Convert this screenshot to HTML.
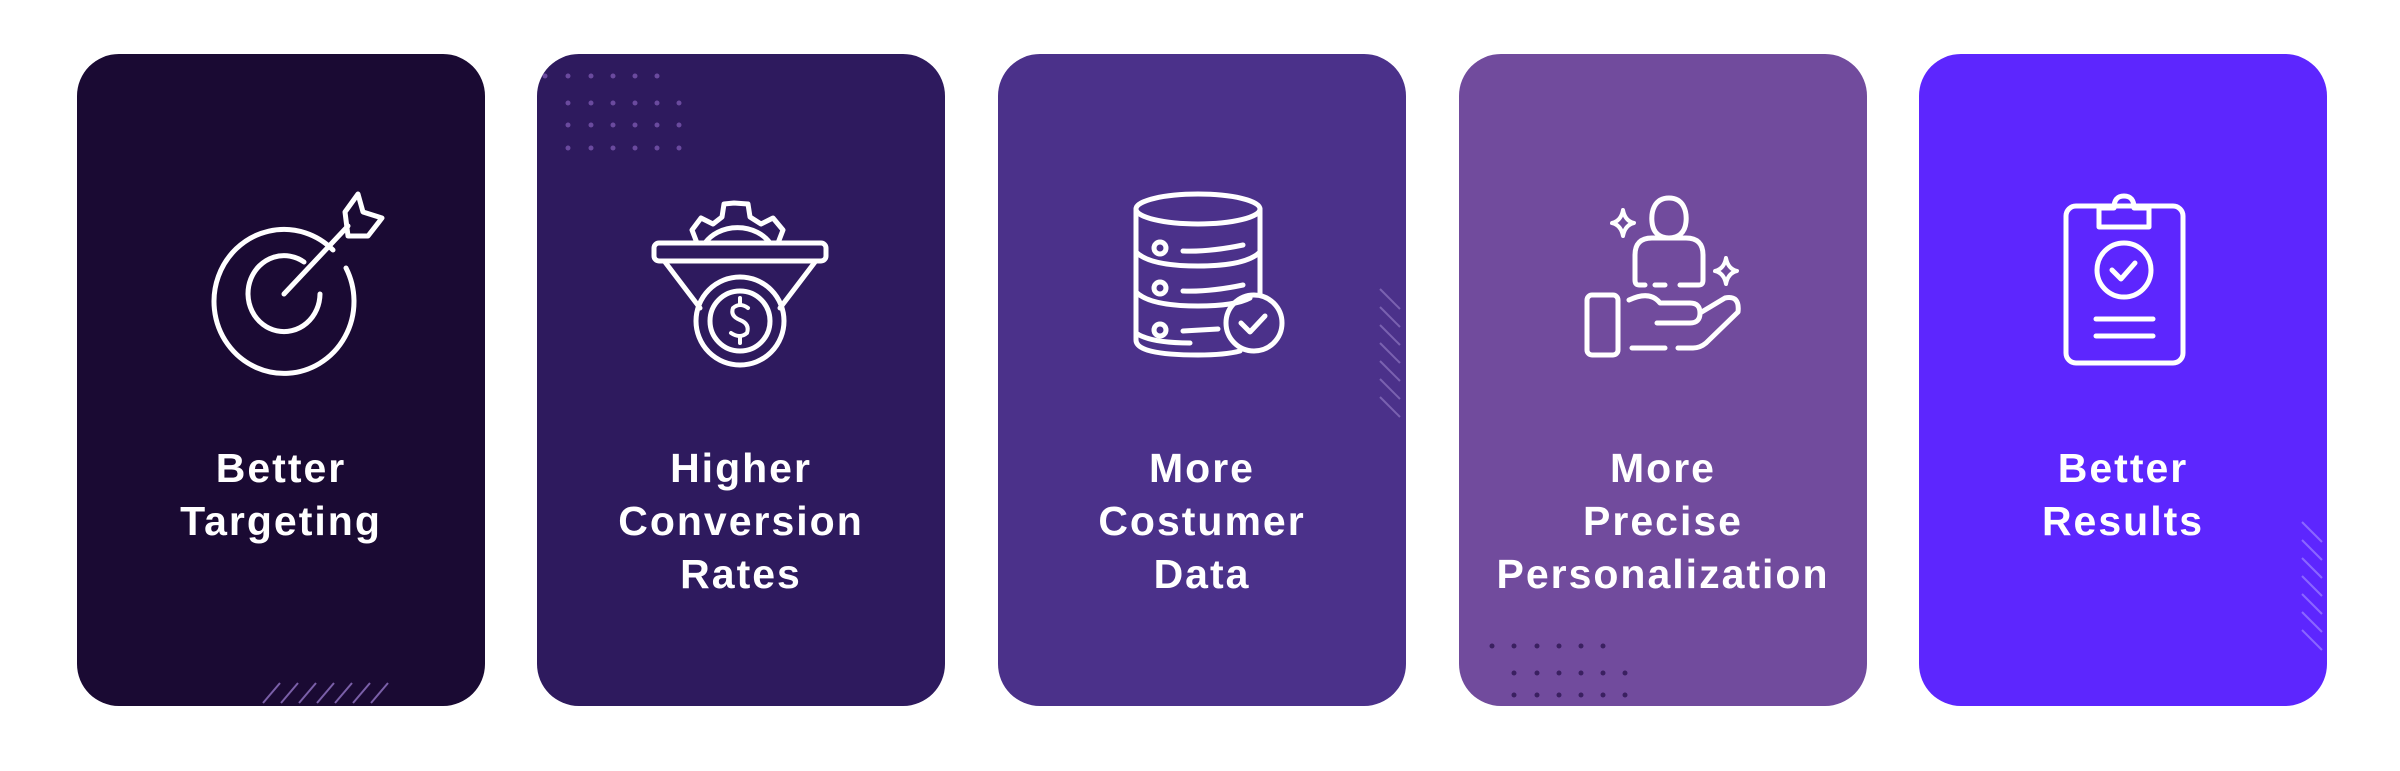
<!DOCTYPE html>
<html><head><meta charset="utf-8"><style>
html,body{margin:0;padding:0;background:#fff;}
body{width:2400px;height:766px;overflow:hidden;}
svg text{font-family:"Liberation Sans",sans-serif;font-weight:bold;font-size:41px;fill:#fff;letter-spacing:2px;text-anchor:middle;}
</style></head><body>
<svg width="2400" height="766" viewBox="0 0 2400 766" xmlns="http://www.w3.org/2000/svg">
<rect x="77" y="54" width="408" height="652" rx="42" fill="#1a0a33"/>
<rect x="537" y="54" width="408" height="652" rx="42" fill="#2e1a5e"/>
<rect x="998" y="54" width="408" height="652" rx="42" fill="#4b318a"/>
<rect x="1459" y="54" width="408" height="652" rx="42" fill="#714b9d"/>
<rect x="1919" y="54" width="408" height="652" rx="42" fill="#5d26fe"/>

<!-- decorations -->
<g stroke="#7a5fa8" stroke-width="2">
<line x1="263" y1="703" x2="280" y2="683"/><line x1="281" y1="703" x2="298" y2="683"/><line x1="299" y1="703" x2="316" y2="683"/><line x1="317" y1="703" x2="334" y2="683"/><line x1="335" y1="703" x2="352" y2="683"/><line x1="353" y1="703" x2="370" y2="683"/><line x1="371" y1="703" x2="388" y2="683"/>
</g>
<g fill="#6a4a9e">
<circle cx="545" cy="76" r="2.5"/><circle cx="568" cy="76" r="2.5"/><circle cx="591" cy="76" r="2.5"/><circle cx="613" cy="76" r="2.5"/><circle cx="635" cy="76" r="2.5"/><circle cx="657" cy="76" r="2.5"/>
<circle cx="568" cy="103" r="2.5"/><circle cx="591" cy="103" r="2.5"/><circle cx="613" cy="103" r="2.5"/><circle cx="635" cy="103" r="2.5"/><circle cx="657" cy="103" r="2.5"/><circle cx="679" cy="103" r="2.5"/>
<circle cx="568" cy="125" r="2.5"/><circle cx="591" cy="125" r="2.5"/><circle cx="613" cy="125" r="2.5"/><circle cx="635" cy="125" r="2.5"/><circle cx="657" cy="125" r="2.5"/><circle cx="679" cy="125" r="2.5"/>
<circle cx="568" cy="148" r="2.5"/><circle cx="591" cy="148" r="2.5"/><circle cx="613" cy="148" r="2.5"/><circle cx="635" cy="148" r="2.5"/><circle cx="657" cy="148" r="2.5"/><circle cx="679" cy="148" r="2.5"/>
</g>
<g stroke="#7a62b0" stroke-width="2">
<line x1="1380" y1="289" x2="1400" y2="309"/><line x1="1380" y1="307" x2="1400" y2="327"/><line x1="1380" y1="325" x2="1400" y2="345"/><line x1="1380" y1="343" x2="1400" y2="363"/><line x1="1380" y1="361" x2="1400" y2="381"/><line x1="1380" y1="379" x2="1400" y2="399"/><line x1="1380" y1="397" x2="1400" y2="417"/>
</g>
<g fill="#3a2060">
<circle cx="1492" cy="646" r="2.5"/><circle cx="1514" cy="646" r="2.5"/><circle cx="1537" cy="646" r="2.5"/><circle cx="1559" cy="646" r="2.5"/><circle cx="1581" cy="646" r="2.5"/><circle cx="1603" cy="646" r="2.5"/>
<circle cx="1514" cy="673" r="2.5"/><circle cx="1537" cy="673" r="2.5"/><circle cx="1559" cy="673" r="2.5"/><circle cx="1581" cy="673" r="2.5"/><circle cx="1603" cy="673" r="2.5"/><circle cx="1625" cy="673" r="2.5"/>
<circle cx="1514" cy="695" r="2.5"/><circle cx="1537" cy="695" r="2.5"/><circle cx="1559" cy="695" r="2.5"/><circle cx="1581" cy="695" r="2.5"/><circle cx="1603" cy="695" r="2.5"/><circle cx="1625" cy="695" r="2.5"/>
</g>
<g stroke="#8a66ff" stroke-width="2">
<line x1="2302" y1="522" x2="2322" y2="542"/><line x1="2302" y1="540" x2="2322" y2="560"/><line x1="2302" y1="558" x2="2322" y2="578"/><line x1="2302" y1="576" x2="2322" y2="596"/><line x1="2302" y1="594" x2="2322" y2="614"/><line x1="2302" y1="612" x2="2322" y2="632"/><line x1="2302" y1="630" x2="2322" y2="650"/>
</g>

<!-- icons -->
<g fill="none" stroke="#fff" stroke-width="5" stroke-linecap="round" stroke-linejoin="round">
<!-- target -->
<path d="M333 250 A70 72 0 1 0 346 268"/>
<path d="M320 294 A36 38 0 1 1 304 262"/>
<line x1="284" y1="294" x2="348" y2="226"/>
<path d="M345 212 L358 194 L363 212 L382 218 L368 236 L348 236 Z"/>
<!-- funnel -->
<rect x="654" y="243" width="172" height="18" rx="5"/>
<path d="M697 243 L692 230 L701 218 L713 224 L722 217 L724 204 L734 203 L748 204 L750 217 L761 224 L773 218 L783 230 L778 243"/>
<path d="M705 243 A38 32 0 0 1 770 243"/>
<path d="M665 262 L700 308 M815 262 L780 308"/>
<circle cx="740" cy="321" r="44"/>
<circle cx="740" cy="321" r="30"/>
<path d="M748 308 Q740 302 733 308 Q730 316 740 320 Q750 324 747 333 Q740 339 731 333 M740 298 V304 M740 337 V343" stroke-width="4"/>
<!-- database -->
<ellipse cx="1198" cy="209" rx="62" ry="15"/>
<path d="M1136 209 V340 Q1136 355 1198 355 Q1225 355 1240 351"/>
<path d="M1260 209 V295"/>
<path d="M1136 252 Q1150 266 1198 266 Q1246 266 1260 252"/>
<path d="M1136 292 Q1150 306 1198 306 Q1235 306 1250 298"/>
<path d="M1136 333 Q1150 343 1190 343 M1183 331 L1218 329"/>
<circle cx="1160" cy="248" r="6"/><circle cx="1160" cy="288" r="6"/><circle cx="1160" cy="330" r="6"/>
<path d="M1183 251 Q1210 252 1243 245 M1183 291 Q1210 292 1243 285"/>
<circle cx="1254" cy="323" r="28"/>
<path d="M1241 323 L1250 332 L1265 316"/>
<!-- personalization -->
<path d="M1669 198 C1654 198 1651 212 1652 222 C1653 233 1660 238 1669 238 C1678 238 1685 233 1686 222 C1687 212 1684 198 1669 198 Z"/>
<path d="M1645 285 H1639 Q1635 285 1635 280 V255 Q1635 238 1652 238 H1686 Q1703 238 1703 255 V280 Q1703 285 1699 285 H1680 M1665 285 H1655"/>
<path d="M1623 210 Q1625 221 1634 223 Q1625 225 1623 236 Q1621 225 1612 223 Q1621 221 1623 210 Z" stroke-width="4"/>
<path d="M1726 258 Q1728 269 1737 271 Q1728 273 1726 284 Q1724 273 1715 271 Q1724 269 1726 258 Z" stroke-width="4"/>
<rect x="1587" y="295" width="31" height="60" rx="5"/>
<path d="M1629 300 Q1650 290 1660 303 H1690 Q1700 303 1700 313 Q1700 323 1690 323 H1657"/>
<path d="M1700 313 L1725 298 Q1740 295 1738 312 L1706 343 Q1700 348 1693 348 H1678 M1665 348 H1632"/>
<!-- clipboard -->
<rect x="2066" y="206" width="117" height="157" rx="10"/>
<path d="M2099 208 V227 H2149 V208 H2134 Q2134 196 2124 196 Q2114 196 2114 208 Z"/>
<circle cx="2124" cy="270" r="27"/>
<path d="M2112 270 L2121 279 L2135 263"/>
<line x1="2096" y1="319" x2="2153" y2="319"/><line x1="2096" y1="336" x2="2153" y2="336"/>
</g>

<!-- labels -->
<text x="281" y="482">Better</text><text x="281" y="535">Targeting</text>
<text x="741" y="482">Higher</text><text x="741" y="535">Conversion</text><text x="741" y="588">Rates</text>
<text x="1202" y="482">More</text><text x="1202" y="535">Costumer</text><text x="1202" y="588">Data</text>
<text x="1663" y="482">More</text><text x="1663" y="535">Precise</text><text x="1663" y="588">Personalization</text>
<text x="2123" y="482">Better</text><text x="2123" y="535">Results</text>
</svg>
</body></html>
